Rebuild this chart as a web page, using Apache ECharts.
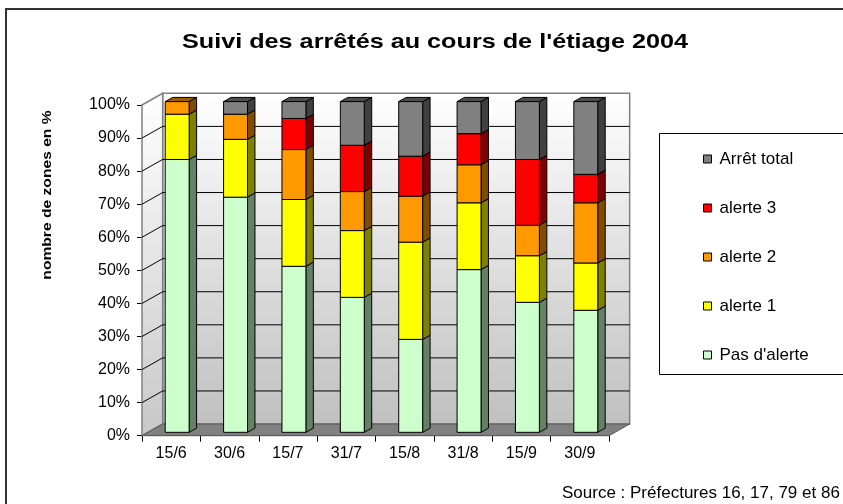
<!DOCTYPE html>
<html>
<head>
<meta charset="utf-8">
<script src="https://cdn.jsdelivr.net/npm/echarts@6/dist/echarts.min.js"></script>
<style>
html,body{margin:0;padding:0;background:#fff;}
#chart{width:843px;height:504px;}
</style>
</head>
<body>
<div id="chart"></div>
<script>
const categories = ['15/6','30/6','15/7','31/7','15/8','31/8','15/9','30/9'];
const pasAlerte  = [82.5, 71.1, 50.2, 40.8, 28.1, 49.2, 39.3, 36.9];
const alerte1    = [13.7, 17.5, 20.2, 20.2, 29.4, 20.2, 14.1, 14.3];
const alerte2    = [3.8, 7.6, 15.1, 11.8, 13.9, 11.5, 9.2, 18.2];
const alerte3    = [0, 0, 9.4, 14.0, 12.1, 9.4, 19.9, 8.6];
const arretTotal = [0, 3.8, 5.1, 13.2, 16.5, 9.7, 17.5, 22.0];
const yTicks = [0,10,20,30,40,50,60,70,80,90,100];

const seriesDefs = [
  {name: "Pas d'alerte", values: pasAlerte, color: '#CCFFCC', side: '#668066', top: '#7a997a'},
  {name: 'alerte 1', values: alerte1, color: '#FFFF00', side: '#808000', top: '#999900'},
  {name: 'alerte 2', values: alerte2, color: '#FF9900', side: '#804d00', top: '#995c00'},
  {name: 'alerte 3', values: alerte3, color: '#FF0000', side: '#800000', top: '#990000'},
  {name: 'Arrêt total', values: arretTotal, color: '#808080', side: '#404040', top: '#4d4d4d'}
];

const DX = 0.354, DY = -0.2;    // depth vector as fraction of band
const FRONT = 0.29, DEPTH = 0.36, BARW = 0.41;

const cum = categories.map(() => 0);
const series = [];

series.push({
  type: 'custom', name: 'walls', silent: true, z: 1, clip: false,
  data: [[0, 0]],
  encode: {x: 0, y: 1},
  renderItem: function (params, api) {
    const band = api.size([1, 0])[0];
    const n = categories.length;
    const cL = api.coord([0, 0])[0] - band / 2;
    const cR = api.coord([n - 1, 0])[0] + band / 2;
    const y = v => api.coord([0, v])[1];
    const dx = band * DX, dy = band * DY;
    const yTop = y(yTicks[yTicks.length - 1]), yBot = y(yTicks[0]);
    const ch = [];
    ch.push({type: 'rect', shape: {x: cL + dx, y: yTop + dy, width: cR - cL, height: yBot - yTop},
      style: {fill: new echarts.graphic.LinearGradient(0, 0, 0, 1, [{offset: 0, color: '#ffffff'}, {offset: 1, color: '#c0c0c0'}]), stroke: '#808080', lineWidth: 1.5}});
    ch.push({type: 'polygon', shape: {points: [[cL, yTop], [cL + dx, yTop + dy], [cL + dx, yBot + dy], [cL, yBot]]},
      style: {fill: new echarts.graphic.LinearGradient(0, 0, 0, 1, [{offset: 0, color: '#ffffff'}, {offset: 1, color: '#c8c8c8'}]), stroke: '#808080', lineWidth: 1.5}});
    for (let k = 1; k < yTicks.length - 1; k++) {
      const yy = y(yTicks[k]);
      ch.push({type: 'line', shape: {x1: cL + dx, y1: yy + dy, x2: cR + dx, y2: yy + dy}, style: {stroke: '#000', lineWidth: 1}});
      ch.push({type: 'line', shape: {x1: cL, y1: yy, x2: cL + dx, y2: yy + dy}, style: {stroke: '#000', lineWidth: 1}});
    }
    ch.push({type: 'polygon', shape: {points: [[cL, yBot], [cR, yBot], [cR + dx, yBot + dy], [cL + dx, yBot + dy]]},
      style: {fill: '#808080', stroke: '#5a5a5a', lineWidth: 1}});
    return {type: 'group', children: ch};
  }
});

seriesDefs.forEach(def => {
  const data = def.values.map((v, i) => {
    const s = cum[i];
    cum[i] += v;
    return [i, s, s + v];
  });
  series.push({
    type: 'custom', name: def.name, z: 2, clip: false,
    itemStyle: {color: def.color, borderColor: '#000', borderWidth: 1},
    data: data,
    encode: {x: 0, y: 2},
    renderItem: function (params, api) {
      const i = api.value(0), y0 = api.value(1), y1 = api.value(2);
      if (y1 - y0 <= 0) return null;
      const band = api.size([1, 0])[0];
      const p0 = api.coord([i, y0]);
      const p1 = api.coord([i, y1]);
      const dx = band * DX, dy = band * DY;
      const w = band * BARW;
      const xL = p0[0] - w / 2 + FRONT * dx;
      const xR = xL + w;
      const yB = p0[1] + FRONT * dy;
      const yT = p1[1] + FRONT * dy;
      const sdx = DEPTH * dx, sdy = DEPTH * dy;
      const st = {stroke: '#000', lineWidth: 1, lineJoin: 'round'};
      return {type: 'group', children: [
        {type: 'polygon', shape: {points: [[xR, yB], [xR + sdx, yB + sdy], [xR + sdx, yT + sdy], [xR, yT]]},
          style: Object.assign({fill: def.side}, st)},
        {type: 'polygon', shape: {points: [[xL, yT], [xR, yT], [xR + sdx, yT + sdy], [xL + sdx, yT + sdy]]},
          style: Object.assign({fill: def.top}, st)},
        {type: 'rect', shape: {x: xL, y: yT, width: w, height: yB - yT},
          style: Object.assign({fill: def.color}, st)}
      ]};
    }
  });
});

const chart = echarts.init(document.getElementById('chart'), null, {renderer: 'canvas'});
const FONT = '"Liberation Sans", Arial, sans-serif';
chart.setOption({
  animation: false,
  backgroundColor: '#ffffff',
  grid: {left: 142, right: 234, top: 105, bottom: 68.3},
  xAxis: {
    type: 'category', data: categories, boundaryGap: true,
    axisLine: {lineStyle: {color: '#000', width: 1}},
    axisTick: {show: true, length: 6, lineStyle: {color: '#000'}},
    axisLabel: {color: '#000', fontSize: 16, fontFamily: FONT, margin: 10},
    splitLine: {show: false}
  },
  yAxis: {
    type: 'value', min: 0, max: 100, interval: 10,
    axisLine: {show: true, lineStyle: {color: '#000', width: 1}},
    axisTick: {show: true, length: 5, lineStyle: {color: '#000'}},
    axisLabel: {color: '#000', fontSize: 16, fontFamily: FONT, margin: 12, formatter: '{value}%'},
    splitLine: {show: false}
  },
  legend: {
    orient: 'vertical', left: 703, top: 150, padding: 0,
    data: ['Arrêt total', 'alerte 3', 'alerte 2', 'alerte 1', "Pas d'alerte"],
    icon: 'rect', itemWidth: 8, itemHeight: 8, itemGap: 31,
    itemStyle: {borderColor: '#000', borderWidth: 1},
    textStyle: {color: '#000', fontSize: 17, fontFamily: FONT, lineHeight: 18, padding: [0, 0, 0, 3]},
    selectedMode: false
  },
  graphic: [
    {type: 'rect', shape: {x: 6, y: 9, width: 850, height: 510}, style: {fill: 'none', stroke: '#333', lineWidth: 2}, z: -1, silent: true},
    {type: 'rect', shape: {x: 659.5, y: 133.5, width: 200, height: 241}, style: {fill: '#fff', stroke: '#000', lineWidth: 1}, z: -1, silent: true},
    {type: 'text', x: 435, y: 42, scaleX: 1.2, style: {text: "Suivi des arrêtés au cours de l'étiage 2004", font: 'bold 21px ' + FONT, fill: '#000', align: 'center', verticalAlign: 'middle'}},
    {type: 'text', x: 48, y: 195, rotation: Math.PI / 2, scaleX: 1.25, style: {text: 'nombre de zones en %', font: 'bold 12.5px ' + FONT, fill: '#000', align: 'center', verticalAlign: 'middle'}},
    {type: 'text', x: 562, y: 493, style: {text: 'Source : Préfectures 16, 17, 79 et 86', font: '17px ' + FONT, fill: '#000', align: 'left', verticalAlign: 'middle'}}
  ],
  series: series
});
</script>
</body>
</html>
